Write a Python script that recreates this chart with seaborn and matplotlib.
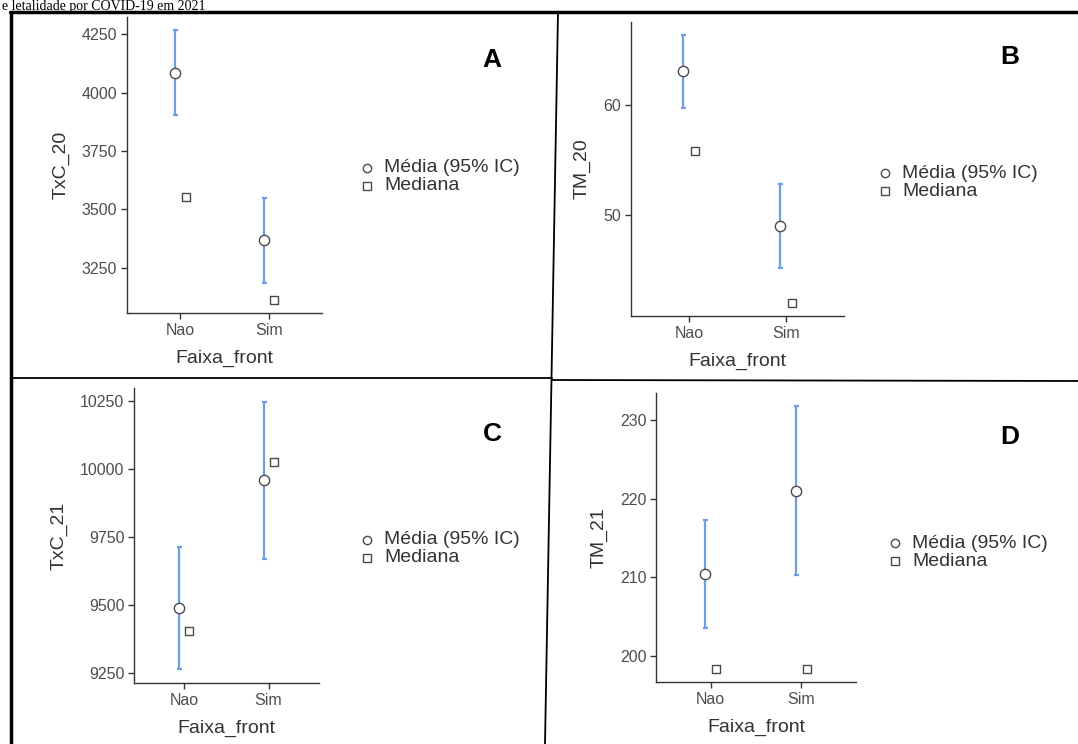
import numpy as np
import pandas as pd
import seaborn as sns
import matplotlib
matplotlib.use("Agg")
import matplotlib.pyplot as plt
from matplotlib.lines import Line2D

sns.set_theme(style="ticks")
plt.rcParams['font.family'] = ['Liberation Sans', 'DejaVu Sans']

# ---------------- data ----------------
categories = ["Nao", "Sim"]
panel_letters = ["A", "B", "C", "D"]
ylabels = ["TxC_20", "TM_20", "TxC_21", "TM_21"]

mean_A = [4084, 3368]
lo_A = [3903, 3185]
hi_A = [4267, 3549]
med_A = [3554, 3111]

mean_B = [63.07, 49.0]
lo_B = [59.73, 45.24]
hi_B = [66.35, 52.86]
med_B = [55.87, 42.08]

mean_C = [9490, 9960]
lo_C = [9267, 9670]
hi_C = [9713, 10246]
med_C = [9406, 10024]

mean_D = [210.43, 221.0]
lo_D = [203.57, 210.3]
hi_D = [217.3, 231.8]
med_D = [198.3, 198.3]

ticks_A = [3250, 3500, 3750, 4000, 4250]
ticks_B = [50, 60]
ticks_C = [9250, 9500, 9750, 10000, 10250]
ticks_D = [200, 210, 220, 230]

ylims = [(3056, 4324), (40.9, 67.5), (9215, 10297), (196.7, 233.4)]

legend_labels = ["Média (95% IC)", "Mediana"]
xlabel = "Faixa_front"
caption = "e letalidade por COVID-19 em 2021"

# ---------------- layout ----------------
W, H = 1078, 744
fig = plt.figure(figsize=(W / 100, H / 100), dpi=100)
fig.patch.set_facecolor("white")

# axes boxes in pixels: left, top, right, bottom
boxes = [(127, 17, 322, 313), (631, 22, 844, 316),
         (134, 388, 319, 683), (656, 393, 856, 682)]
legend_pos = [(367, 168), (885, 173), (367, 540), (895, 543)]
letter_pos = [(492, 60), (1010, 57), (492, 434), (1010, 437)]

panels = [
    (mean_A, lo_A, hi_A, med_A, ticks_A),
    (mean_B, lo_B, hi_B, med_B, ticks_B),
    (mean_C, lo_C, hi_C, med_C, ticks_C),
    (mean_D, lo_D, hi_D, med_D, ticks_D),
]

ci_color = "#6F9EE6"
edge_col = "#4a4a4a"
tick_col = "#4D4D4D"
spine_col = "#333333"

for i, (mean, lo, hi, med, ticks) in enumerate(panels):
    l, t, r, b = boxes[i]
    ax = fig.add_axes([l / W, 1 - b / H, (r - l) / W, (b - t) / H])
    xpos = np.arange(len(categories))
    df_mean = pd.DataFrame({"x": xpos - 0.06, "y": mean})
    df_med = pd.DataFrame({"x": xpos + 0.06, "y": med})
    mean_arr = np.array(mean)
    err = np.vstack([mean_arr - np.array(lo), np.array(hi) - mean_arr])
    ax.errorbar(df_mean["x"], df_mean["y"], yerr=err, fmt="none",
                ecolor=ci_color, elinewidth=1.6, capsize=1.8, capthick=1.6,
                zorder=2)
    sns.scatterplot(data=df_mean, x="x", y="y", ax=ax, marker="o", s=55,
                    facecolor="white", edgecolor=edge_col, linewidth=1.0,
                    zorder=3, legend=False)
    sns.scatterplot(data=df_med, x="x", y="y", ax=ax, marker="s", s=30,
                    facecolor="white", edgecolor=edge_col, linewidth=1.0,
                    zorder=3, legend=False)
    ax.set_xlim(-0.6, 1.6)
    ax.set_ylim(*ylims[i])
    ax.set_xticks(xpos)
    ax.set_xticklabels(categories)
    ax.set_yticks(ticks)
    ax.set_yticklabels([str(v) for v in ticks])
    ax.set_xlabel(xlabel, fontsize=14, color=spine_col, labelpad=9)
    ax.set_ylabel(ylabels[i], fontsize=14, color=spine_col, labelpad=9)
    ax.tick_params(axis="both", labelsize=11.5, colors=tick_col, length=4,
                   width=1.0, pad=3)
    ax.tick_params(axis="both", color=spine_col)
    for s in ["top", "right"]:
        ax.spines[s].set_visible(False)
    for s in ["left", "bottom"]:
        ax.spines[s].set_color(spine_col)
        ax.spines[s].set_linewidth(1.0)
    ax.set_facecolor("white")

    # legend drawn at figure level
    lx, ly = legend_pos[i]
    fig.add_artist(Line2D([lx / W], [1 - ly / H], marker="o", markersize=6,
                          markerfacecolor="white", markeredgecolor=edge_col,
                          markeredgewidth=1.0, linestyle="none",
                          transform=fig.transFigure))
    fig.add_artist(Line2D([lx / W], [1 - (ly + 18) / H], marker="s",
                          markersize=5.5, markerfacecolor="white",
                          markeredgecolor=edge_col, markeredgewidth=1.0,
                          linestyle="none", transform=fig.transFigure))
    fig.text((lx + 17) / W, 1 - ly / H, legend_labels[0], fontsize=14,
             color=spine_col, va="center", ha="left")
    fig.text((lx + 17) / W, 1 - (ly + 18) / H, legend_labels[1], fontsize=14,
             color=spine_col, va="center", ha="left")

    px, py = letter_pos[i]
    fig.text(px / W, 1 - py / H, panel_letters[i], fontsize=19,
             fontweight="bold", color="black", ha="center", va="center")

# frame lines
fig.add_artist(Line2D([11 / W, 11 / W], [0, 1 - 12 / H], color="black",
                      linewidth=2.5, transform=fig.transFigure))
fig.add_artist(Line2D([10 / W, 1.0], [1 - 12 / H, 1 - 12 / H], color="black",
                      linewidth=2.5, transform=fig.transFigure))
fig.add_artist(Line2D([558 / W, 545 / W], [1 - 12 / H, 0], color="black",
                      linewidth=1.3, transform=fig.transFigure))
fig.add_artist(Line2D([11 / W, 552 / W], [1 - 378 / H, 1 - 378 / H],
                      color="black", linewidth=1.3, transform=fig.transFigure))
fig.add_artist(Line2D([552 / W, 1.0], [1 - 380 / H, 1 - 381 / H],
                      color="black", linewidth=1.3, transform=fig.transFigure))

# caption strip at the very top (kept small so it fits above the frame)
fig.text(2 / W, 1 - 10 / H, caption, fontsize=10, family="Liberation Serif",
         color="black", ha="left", va="baseline")

fig.savefig("out.png", dpi=100, facecolor="white")
